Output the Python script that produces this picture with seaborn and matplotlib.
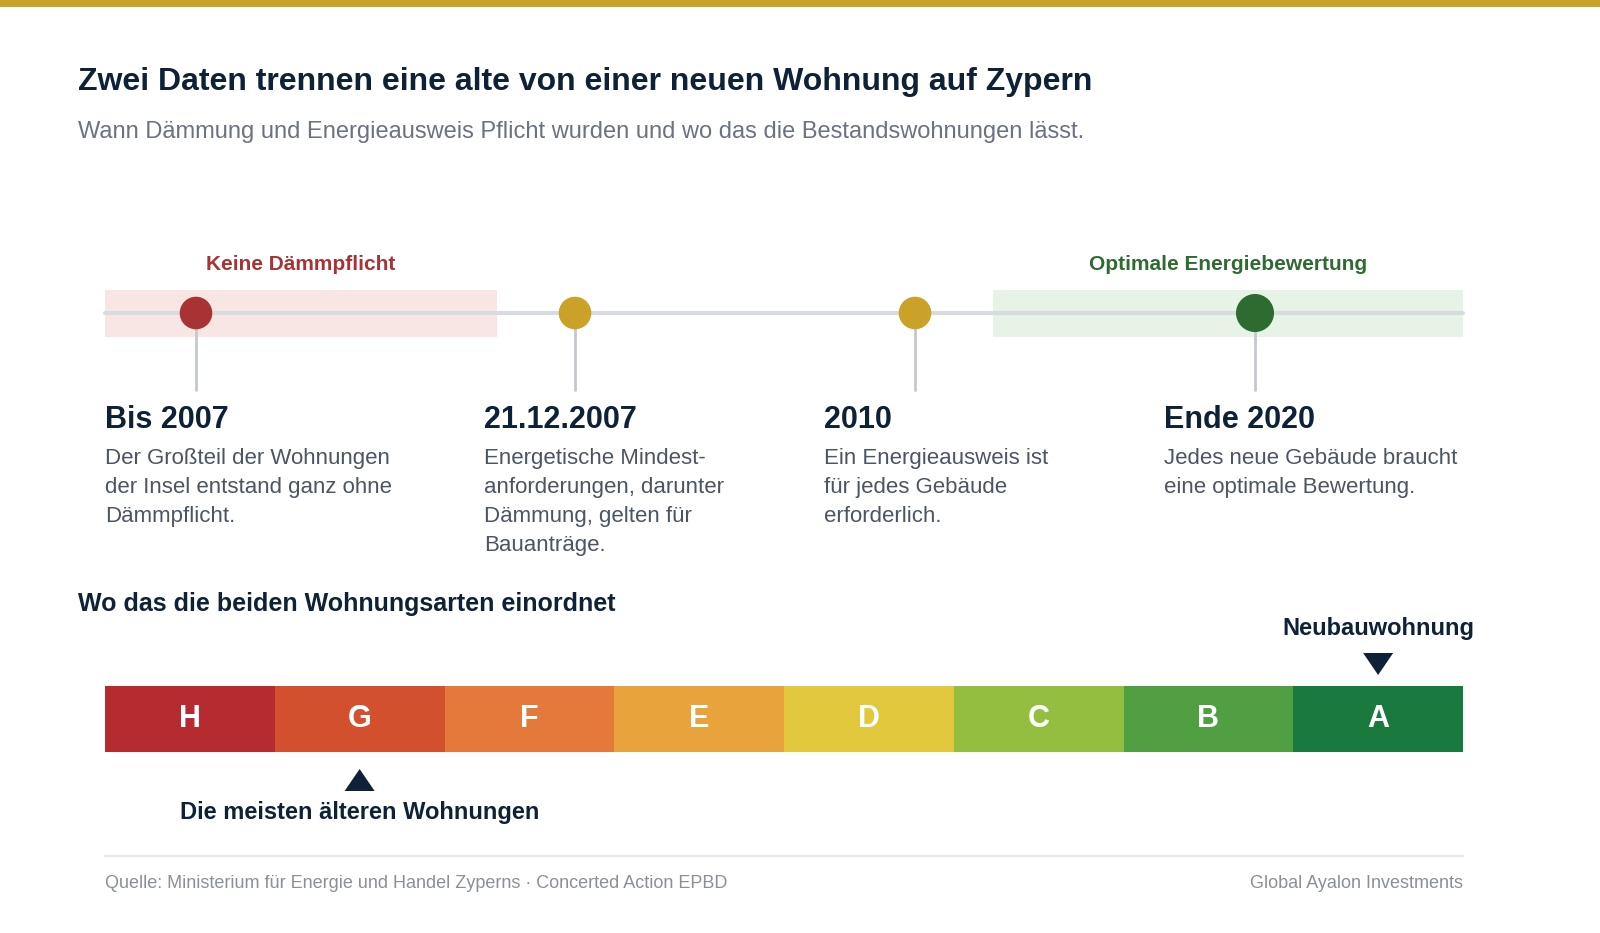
import matplotlib
matplotlib.use("Agg")
import matplotlib.pyplot as plt
import seaborn as sns
import pandas as pd

# ── data ─────────────────────────────────────────────────────────────
event_titles = ["Bis 2007", "21.12.2007", "2010", "Ende 2020"]
event_texts = [
    "Der Großteil der Wohnungen\nder Insel entstand ganz ohne\nDämmpflicht.",
    "Energetische Mindest-\nanforderungen, darunter\nDämmung, gelten für\nBauanträge.",
    "Ein Energieausweis ist\nfür jedes Gebäude\nerforderlich.",
    "Jedes neue Gebäude braucht\neine optimale Bewertung.",
]
event_colors = ["#a83234", "#c9a227", "#c9a227", "#2e6b30"]
event_x = [196, 575, 915, 1255]
classes = ["H", "G", "F", "E", "D", "C", "B", "A"]
class_colors = ["#b52b30", "#d2502e", "#e3793a", "#e8a33c",
                "#e2c83c", "#93be3f", "#50a043", "#1a7a3d"]
old_class = "G"
new_class = "A"

NAVY = "#0f2137"
GREY = "#6b7280"

sns.set_theme(style="white")
plt.rcParams["font.family"] = ["Liberation Sans", "DejaVu Sans"]

fig = plt.figure(figsize=(16, 9.33), dpi=100)
ax = fig.add_axes([0, 0, 1, 1])
ax.set_xlim(0, 1600)
ax.set_ylim(933, 0)
ax.axis("off")

# top accent
ax.add_patch(plt.Rectangle((0, 0), 1600, 7, color="#c9a227", lw=0))

ax.text(78, 82, "Zwei Daten trennen eine alte von einer neuen Wohnung auf Zypern",
        fontsize=23, weight="bold", color=NAVY, va="center")
ax.text(78, 132, "Wann Dämmung und Energieausweis Pflicht wurden und wo das die Bestandswohnungen lässt.",
        fontsize=17, color=GREY, va="center")

# ── timeline ─────────────────────────────────────────────────────────
ty = 313
ax.add_patch(plt.Rectangle((105, 290), 392, 47, color="#f8e6e5", lw=0))
ax.add_patch(plt.Rectangle((993, 290), 470, 47, color="#e6f3e6", lw=0))
ax.plot([105, 1463], [ty, ty], color="#d8dbe0", lw=3, zorder=1)
ax.text(301, 265, "Keine Dämmpflicht", fontsize=15, weight="bold",
        color="#a83234", ha="center", va="center")
ax.text(1228, 265, "Optimale Energiebewertung", fontsize=15, weight="bold",
        color="#2e6b30", ha="center", va="center")

df = pd.DataFrame({"x": event_x, "y": [ty] * 4, "c": event_titles})
for x in event_x:
    ax.plot([x, x], [327, 390], color="#c4c8cf", lw=2, zorder=1)
sns.scatterplot(data=df, x="x", y="y", hue="c", palette=event_colors,
                s=[550, 550, 550, 750], legend=False, ax=ax, zorder=3,
                edgecolor="none")
for x, t, body in zip(event_x, event_titles, event_texts):
    ax.text(x - 91, 420, t, fontsize=22, weight="bold", color=NAVY, va="center")
    ax.text(x - 91, 448, body, fontsize=16, color="#4b5563", va="top",
            linespacing=1.5)
ax.set_xlabel(""); ax.set_ylabel("")

# ── energy scale ────────────────────────────────────────────────────
ax.text(78, 604, "Wo das die beiden Wohnungsarten einordnet", fontsize=18,
        weight="bold", color=NAVY, va="center")
bax = fig.add_axes([105 / 1600, 1 - 752 / 933, 1358 / 1600, 66 / 933])
sns.barplot(x=classes, y=[1] * len(classes), hue=classes, palette=class_colors,
            width=1.0, legend=False, ax=bax, saturation=1, linewidth=0)
bax.set_xlim(-0.5, len(classes) - 0.5)
bax.set_ylim(0, 1)
bax.axis("off")
for i, c in enumerate(classes):
    bax.text(i, 0.5, c, color="white", fontsize=22, weight="bold",
             ha="center", va="center")

seg = 1358 / len(classes)
gx = 105 + seg * (classes.index(old_class) + 0.5)
nx = 105 + seg * (classes.index(new_class) + 0.5)
ax.add_patch(plt.Polygon([[nx - 15, 653], [nx + 15, 653], [nx, 675]], color=NAVY, lw=0))
ax.text(nx, 629, "Neubauwohnung", fontsize=17, weight="bold", color=NAVY,
        ha="center", va="center")
ax.add_patch(plt.Polygon([[gx - 15, 791], [gx + 15, 791], [gx, 769]], color=NAVY, lw=0))
ax.text(gx, 812, "Die meisten älteren Wohnungen", fontsize=17, weight="bold",
        color=NAVY, ha="center", va="center")

# ── footer ──────────────────────────────────────────────────────────
ax.plot([105, 1463], [856, 856], color="#e5e7eb", lw=1.5)
ax.text(105, 883, "Quelle: Ministerium für Energie und Handel Zyperns · Concerted Action EPBD",
        fontsize=13, color="#8a8f98", va="center")
ax.text(1463, 883, "Global Ayalon Investments", fontsize=13, color="#8a8f98",
        va="center", ha="right")

fig.savefig("out.png", dpi=100, facecolor="white")
